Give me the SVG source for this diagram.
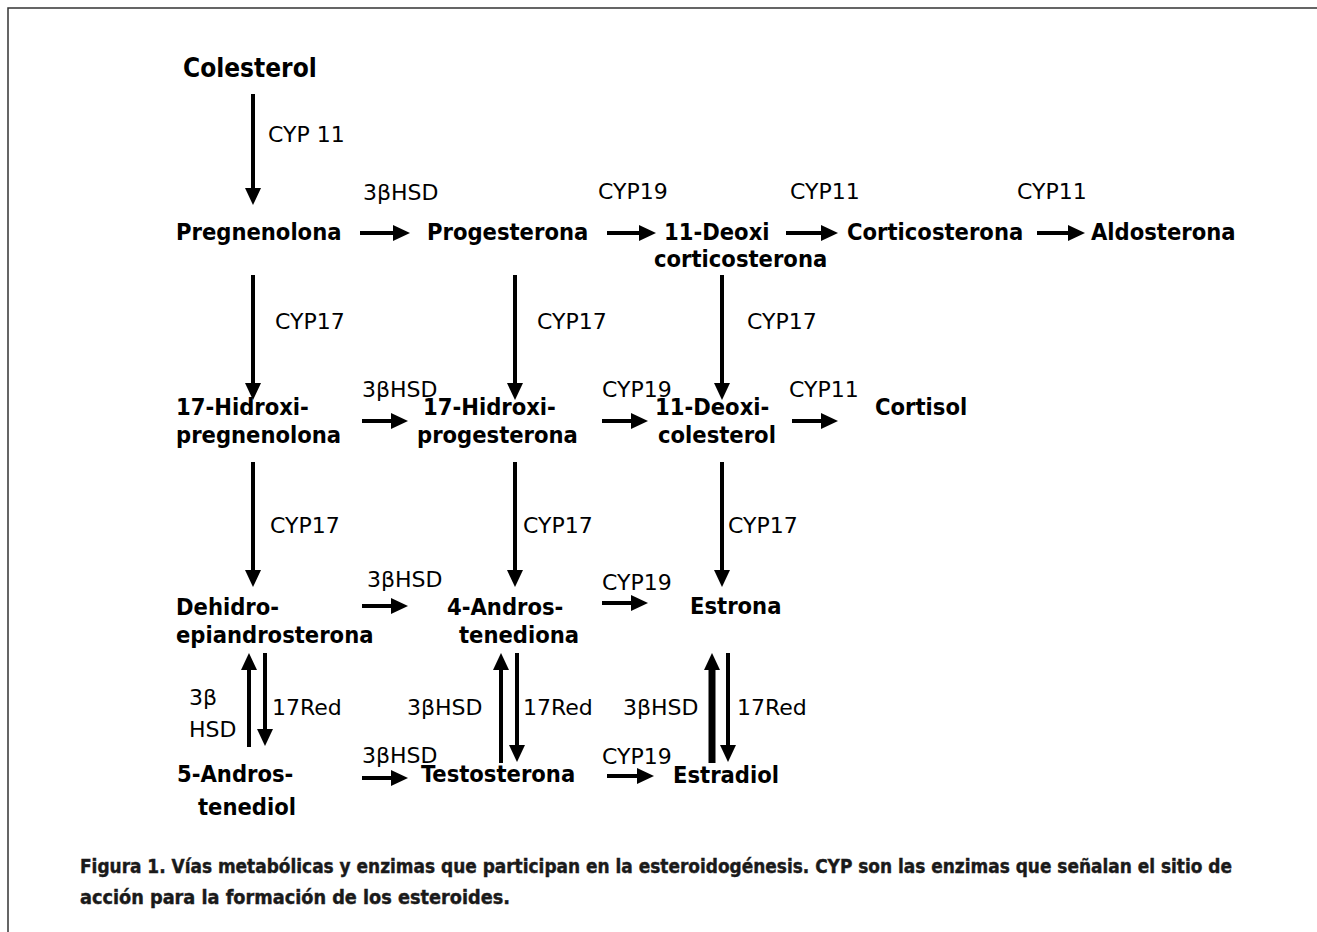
<svg xmlns="http://www.w3.org/2000/svg" width="1317" height="932" viewBox="0 0 1317 932">
<style>
  .node { font-family: 'DejaVu Sans Condensed', 'DejaVu Sans', sans-serif; font-stretch: condensed; font-weight: bold; font-size: 23.5px; fill: #000; }
  .big { font-size: 26px; }
  .enz { font-family: 'DejaVu Sans', 'Liberation Sans', sans-serif; font-size: 22px; fill: #000; }
  .cap { font-family: 'DejaVu Sans Condensed', 'DejaVu Sans', sans-serif; font-stretch: condensed; font-weight: bold; font-size: 19px; fill: #1a1a1a; stroke: #1a1a1a; stroke-width: 0.4; }
  .arr { fill: none; stroke: #000; stroke-width: 4; marker-end: url(#head); }
  .thick { stroke-width: 7; }
  .frame { fill: none; stroke: #333; stroke-width: 1.5; }
</style>
<defs>
  <marker id="head" markerUnits="userSpaceOnUse" viewBox="0 -8 17 16" markerWidth="17" markerHeight="16" refX="0" refY="0" orient="auto">
    <path d="M0,-8 L17,0 L0,8 z" fill="#000"/>
  </marker>
</defs>
<rect width="1317" height="932" fill="#fff"/>
<path class="frame" d="M8,932 V8 H1317"/>

<g id="connectors">
  <path class="arr" d="M253,94 V188"/>
  <path class="arr" d="M253,275 V383"/>
  <path class="arr" d="M515,275 V383"/>
  <path class="arr" d="M722,275 V383"/>
  <path class="arr" d="M253,462 V570"/>
  <path class="arr" d="M515,462 V570"/>
  <path class="arr" d="M722,462 V570"/>
  <path class="arr" d="M249,747 V670"/>
  <path class="arr" d="M265,653 V729"/>
  <path class="arr" d="M501,763 V670"/>
  <path class="arr" d="M517,653 V745"/>
  <path class="arr thick" d="M712,763 V670"/>
  <path class="arr" d="M728,653 V745"/>
  <path class="arr" d="M360,233 H393"/>
  <path class="arr" d="M607,233 H639"/>
  <path class="arr" d="M786,233 H821"/>
  <path class="arr" d="M1037,233 H1068"/>
  <path class="arr" d="M362,421 H391"/>
  <path class="arr" d="M602,421 H631"/>
  <path class="arr" d="M792,421 H821"/>
  <path class="arr" d="M362,606 H391"/>
  <path class="arr" d="M602,603 H631"/>
  <path class="arr" d="M362,778 H391"/>
  <path class="arr" d="M607,776 H637"/>
</g>

<g id="enzymes">
  <text class="enz" x="268" y="142">CYP 11</text>
  <text class="enz" x="363" y="200">3βHSD</text>
  <text class="enz" x="598" y="199">CYP19</text>
  <text class="enz" x="790" y="199">CYP11</text>
  <text class="enz" x="1017" y="199">CYP11</text>
  <text class="enz" x="275" y="329">CYP17</text>
  <text class="enz" x="537" y="329">CYP17</text>
  <text class="enz" x="747" y="329">CYP17</text>
  <text class="enz" x="362" y="397">3βHSD</text>
  <text class="enz" x="602" y="397">CYP19</text>
  <text class="enz" x="789" y="397">CYP11</text>
  <text class="enz" x="270" y="533">CYP17</text>
  <text class="enz" x="523" y="533">CYP17</text>
  <text class="enz" x="728" y="533">CYP17</text>
  <text class="enz" x="367" y="587">3βHSD</text>
  <text class="enz" x="602" y="590">CYP19</text>
  <text class="enz" x="189" y="705">3β</text>
  <text class="enz" x="189" y="737">HSD</text>
  <text class="enz" x="272" y="715">17Red</text>
  <text class="enz" x="407" y="715">3βHSD</text>
  <text class="enz" x="523" y="715">17Red</text>
  <text class="enz" x="623" y="715">3βHSD</text>
  <text class="enz" x="737" y="715">17Red</text>
  <text class="enz" x="362" y="763">3βHSD</text>
  <text class="enz" x="602" y="764">CYP19</text>
</g>

<g id="colesterol"><text class="node big" x="183" y="77">Colesterol</text></g>
<g id="pregnenolona"><text class="node" x="176" y="240">Pregnenolona</text></g>
<g id="progesterona"><text class="node" x="427" y="240">Progesterona</text></g>
<g id="deoxicorticosterona"><text class="node" x="664" y="240">11-Deoxi</text><text class="node" x="654" y="267">corticosterona</text></g>
<g id="corticosterona"><text class="node" x="847" y="240">Corticosterona</text></g>
<g id="aldosterona"><text class="node" x="1091" y="240">Aldosterona</text></g>
<g id="hidroxipregnenolona"><text class="node" x="176" y="415">17-Hidroxi-</text><text class="node" x="176" y="443">pregnenolona</text></g>
<g id="hidroxiprogesterona"><text class="node" x="423" y="415">17-Hidroxi-</text><text class="node" x="417" y="443">progesterona</text></g>
<g id="deoxicolesterol"><text class="node" x="655" y="415">11-Deoxi-</text><text class="node" x="658" y="443">colesterol</text></g>
<g id="cortisol"><text class="node" x="875" y="415">Cortisol</text></g>
<g id="dhea"><text class="node" x="176" y="615">Dehidro-</text><text class="node" x="176" y="643">epiandrosterona</text></g>
<g id="androstenediona"><text class="node" x="447" y="615">4-Andros-</text><text class="node" x="459" y="643">tenediona</text></g>
<g id="estrona"><text class="node" x="690" y="614">Estrona</text></g>
<g id="androstenediol"><text class="node" x="177" y="782">5-Andros-</text><text class="node" x="198" y="815">tenediol</text></g>
<g id="testosterona"><text class="node" x="421" y="782">Testosterona</text></g>
<g id="estradiol"><text class="node" x="673" y="783">Estradiol</text></g>

<g id="caption">
  <text class="cap" x="80" y="873" textLength="1152" lengthAdjust="spacingAndGlyphs">Figura 1. Vías metabólicas y enzimas que participan en la esteroidogénesis. CYP son las enzimas que señalan el sitio de</text>
  <text class="cap" x="80" y="904" textLength="430" lengthAdjust="spacingAndGlyphs">acción para la formación de los esteroides.</text>
</g>
</svg>
